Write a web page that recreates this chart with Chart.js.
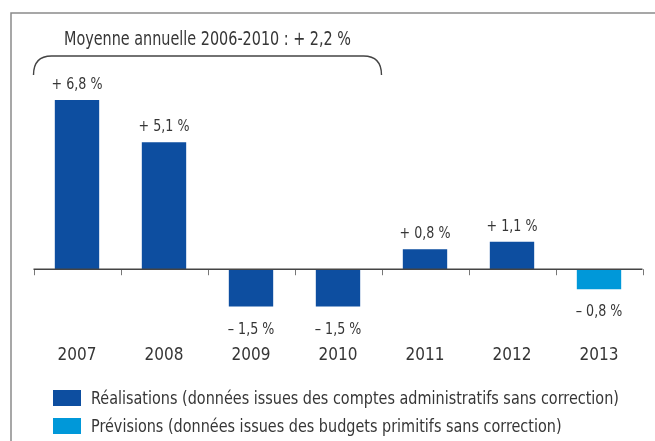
<!DOCTYPE html>
<html>
<head>
<meta charset="utf-8">
<script src="https://cdn.jsdelivr.net/npm/chart.js@4"></script>
<style>
	html, body { margin: 0; padding: 0; background: #fff; }
	#wrap { width: 655px; height: 441px; position: relative; }
</style>
</head>
<body>
<div id="wrap"><canvas id="myChart" width="655" height="441"></canvas></div>
<script>
var years = ['2007', '2008', '2009', '2010', '2011', '2012', '2013'];
var realisations = [6.8, 5.1, -1.5, -1.5, 0.8, 1.1, null];
var previsions = [null, null, null, null, null, null, -0.8];
var seriesNames = [
	'Réalisations (données issues des comptes administratifs sans correction)',
	'Prévisions (données issues des budgets primitifs sans correction)'
];
var colorHex = ['#0d4ea0', '#0098d9'];
var titleText = 'Moyenne annuelle 2006-2010 : + 2,2 %';
var braceFrom = 0, braceTo = 3; // 2007 .. 2010

var FONT = "'DejaVu Sans Condensed', 'Liberation Sans Narrow', sans-serif";
var TEXT = '#363636';

function fmt(v) {
	var s = Math.abs(v).toFixed(1).replace('.', ',');
	return (v < 0 ? '\u2013 ' : '+ ') + s + ' %';
}

// draw text squeezed horizontally, the original uses a condensed face
function narrowText(c, txt, x, y, sx) {
	c.save();
	c.translate(x, y);
	c.scale(sx, 1);
	c.fillText(txt, 0, 0);
	c.restore();
}

var decor = {
	id: 'decor',
	beforeDraw: function(chart) {
		var c = chart.ctx;
		c.save();
		c.strokeStyle = '#8a8a8a';
		c.lineWidth = 1.5;
		c.beginPath();
		c.moveTo(11, 441);
		c.lineTo(11, 13);
		c.lineTo(655, 13);
		c.stroke();
		c.restore();
	},
	afterDatasetsDraw: function(chart) {
		var c = chart.ctx;
		var x = chart.scales.x;
		var y = chart.scales.y;
		var half = (x.getPixelForValue(1) - x.getPixelForValue(0)) / 2;
		var y0 = y.getPixelForValue(0);
		c.save();

		// zero line with ticks between categories
		c.strokeStyle = '#777';
		c.lineWidth = 1;
		for (var i = 0; i <= years.length; i++) {
			var tx = Math.round(x.getPixelForValue(0) - half + i * half * 2) + 0.5;
			c.beginPath();
			c.moveTo(tx, y0);
			c.lineTo(tx, y0 + 6);
			c.stroke();
		}
		c.strokeStyle = '#444';
		c.lineWidth = 1.5;
		c.beginPath();
		c.moveTo(x.left, y0);
		c.lineTo(x.right, y0);
		c.stroke();

		// brace over 2007-2010
		var bx0 = x.getPixelForValue(braceFrom) - half;
		var bx1 = x.getPixelForValue(braceTo) + half;
		var by = 56, bh = 19, r = 18;
		c.strokeStyle = '#444';
		c.lineWidth = 1.4;
		c.beginPath();
		c.moveTo(bx0, by + bh);
		c.quadraticCurveTo(bx0, by, bx0 + r, by);
		c.lineTo(bx1 - r, by);
		c.quadraticCurveTo(bx1, by, bx1, by + bh);
		c.stroke();

		c.fillStyle = TEXT;
		c.font = '20px ' + FONT;
		c.textAlign = 'center';
		c.textBaseline = 'alphabetic';
		narrowText(c, titleText, (bx0 + bx1) / 2, 45, 0.8);

		// value labels
		c.font = '16px ' + FONT;
		chart.data.datasets.forEach(function(ds, di) {
			var meta = chart.getDatasetMeta(di);
			meta.data.forEach(function(bar, i) {
				var v = ds.data[i];
				if (v === null || v === undefined) return;
				if (v >= 0) narrowText(c, fmt(v), bar.x, bar.y - 11, 0.88);
				else narrowText(c, fmt(v), bar.x, bar.y + 27, 0.88);
			});
		});

		// legend
		c.textAlign = 'left';
		c.textBaseline = 'middle';
		c.font = '18px ' + FONT;
		chart.data.datasets.forEach(function(ds, di) {
			var cy = 398 + di * 28;
			c.fillStyle = ds.backgroundColor;
			c.fillRect(53, cy - 8, 28, 16);
			c.fillStyle = TEXT;
			narrowText(c, ds.label, 91, cy + 1, 0.89);
		});
		c.restore();
	}
};

var ctx = document.getElementById('myChart').getContext('2d');
var myChart = new Chart(ctx, {
	type: 'bar',
	data: {
		labels: years,
		datasets: [
			{ label: seriesNames[0], data: realisations, backgroundColor: colorHex[0] },
			{ label: seriesNames[1], data: previsions, backgroundColor: colorHex[1] }
		]
	},
	options: {
		responsive: false,
		animation: false,
		layout: { padding: { left: 33.5, right: 12.5, top: 95, bottom: 62 } },
		datasets: {
			bar: { grouped: false, categoryPercentage: 1, barPercentage: 0.51 }
		},
		plugins: {
			legend: { display: false },
			tooltip: { enabled: false }
		},
		scales: {
			y: {
				display: false,
				min: -2,
				max: 7
			},
			x: {
				border: { display: false },
				grid: { display: false, drawTicks: false },
				afterFit: function(scale) { scale.height = 60; },
				ticks: {
					padding: 26,
					color: TEXT,
					font: { family: FONT, size: 17 }
				}
			}
		}
	},
	plugins: [decor]
});
</script>
</body>
</html>
